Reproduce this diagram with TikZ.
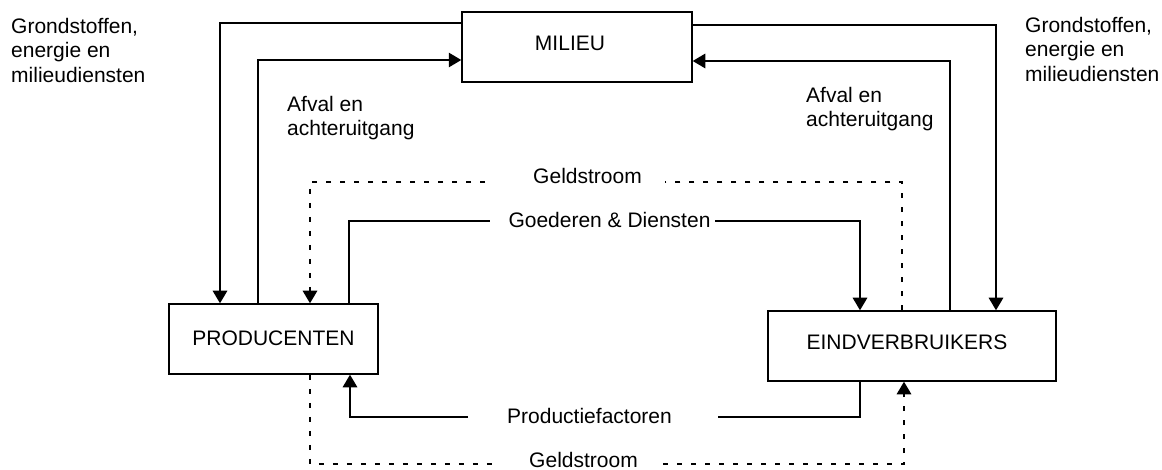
\documentclass[tikz,border=0pt]{standalone}
\usepackage{fontspec}
\setmainfont{Liberation Sans}
\usetikzlibrary{arrows.meta}
\newcommand\dgmfont{\fontsize{21pt}{24.5pt}\selectfont}
\begin{document}
\begin{tikzpicture}[x=1pt,y=-1pt,
  box/.style={draw,line width=1.5pt,minimum height=70pt,inner sep=0pt,font=\dgmfont},
  lbl/.style={inner sep=0pt,font=\dgmfont,anchor=base},
  txt/.style={inner sep=0pt,font=\dgmfont,anchor=north west,align=left},
  conn/.style={line width=1.4pt},
  arr/.style={conn,-{Triangle[length=12.5pt,width=14.5pt]}},
  dsh/.style={dash pattern=on 5pt off 9pt}]
\useasboundingbox (0,0) rectangle (1162,470);

% boxes
\node[box,minimum width=230pt,text depth=8pt] (milieu) at (577,47) {\hspace*{-14pt}MILIEU};
\node[box,minimum width=209pt,text depth=2pt] (prod) at (273.5,339) {PRODUCENTEN};
\node[box,minimum width=288pt,text depth=8pt] (eind) at (912,346) {\hspace*{-10pt}EINDVERBRUIKERS};

% labels
\node[txt] (grl) at (11,17.7) {Grondstoffen,\\energie en\\milieudiensten};
\node[txt] (grr) at (1025,16.7) {Grondstoffen,\\energie en\\milieudiensten};
\node[txt] (afl) at (287,95.7) {Afval en\\achteruitgang};
\node[txt] (afr) at (806,86.7) {Afval en\\achteruitgang};
\node[lbl] (gs1) at (587.5,184) {Geldstroom};
\node[lbl] (gd) at (609.5,228) {Goederen \& Diensten};
\node[lbl] (pf) at (589.5,423) {Productiefactoren};
\node[lbl] (gs2) at (583.5,467) {Geldstroom};

% free ends beside the labels
\coordinate (gs1l) at (485,182);
\coordinate (gs1r) at (665,182);
\coordinate (gdl) at (490,221);
\coordinate (gdr) at (715,221);
\coordinate (pfl) at (468,417);
\coordinate (pfr) at (718,417);
\coordinate (gs2l) at (495,464);
\coordinate (gs2r) at (663,464);

% milieu <-> producenten
\draw[arr] ([yshift=24pt]milieu.west) -| ([xshift=-53.5pt]prod.north);
\draw[arr] ([xshift=-15.5pt]prod.north) |- ([yshift=-13pt]milieu.west);
% milieu <-> eindverbruikers
\draw[arr] ([yshift=22pt]milieu.east) -| ([xshift=84pt]eind.north);
\draw[arr] ([xshift=38pt]eind.north) |- ([yshift=-14pt]milieu.east);

% geldstroom top (dashed)
\draw[conn,dsh] ([xshift=-10pt]eind.north) |- (gs1r);
\draw[arr,dsh] (gs1l) -| ([xshift=36.5pt]prod.north);

% goederen & diensten
\draw[conn] ([xshift=75.5pt]prod.north) |- (gdl);
\draw[arr] (gdr) -| ([xshift=-52pt]eind.north);

% productiefactoren
\draw[conn] ([xshift=-52pt]eind.south) |- (pfr);
\draw[arr] (pfl) -| ([xshift=76.5pt]prod.south);

% geldstroom bottom (dashed)
\draw[conn,dsh] ([xshift=36.5pt]prod.south) |- (gs2l);
\draw[arr,dsh] (gs2r) -| ([xshift=-8pt]eind.south);
\end{tikzpicture}
\end{document}
